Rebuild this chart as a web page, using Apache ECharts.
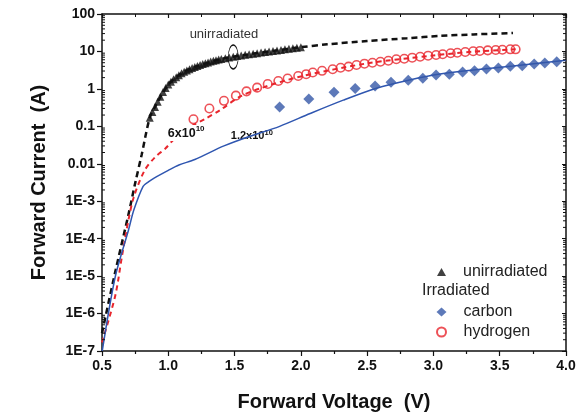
<!DOCTYPE html>
<html><head><meta charset="utf-8">
<script src="https://cdn.jsdelivr.net/npm/echarts@6/dist/echarts.min.js"></script>
<style>html,body{margin:0;padding:0;background:#fff}#c{width:587px;height:415px}</style>
</head><body><div id="c"></div>
<script>
// ---- data ----
const xTickLabels = ['0.5','1.0','1.5','2.0','2.5','3.0','3.5','4.0'];
const yTickLabels = ['1E-7','1E-6','1E-5','1E-4','1E-3','0.01','0.1','1','10','100'];

const unirrV = [0.86,0.88,0.90,0.92,0.94,0.96,0.98,1.00,1.02,1.04,1.06,1.08,1.10,1.12,1.14,1.16,1.18,1.20,1.22,1.24,1.26,1.28,1.30,1.32,1.34,1.36,1.38,1.40,1.43,1.46,1.49,1.52,1.55,1.58,1.61,1.64,1.67,1.70,1.73,1.76,1.79,1.82,1.85,1.88,1.91,1.94,1.97,2.00];
const unirrI = [0.17,0.24,0.33,0.45,0.62,0.82,1.05,1.3,1.55,1.8,2.05,2.3,2.6,2.85,3.1,3.35,3.6,3.85,4.1,4.35,4.6,4.85,5.1,5.35,5.6,5.85,6.1,6.3,6.6,6.9,7.2,7.5,7.8,8.1,8.4,8.7,9.0,9.3,9.6,9.9,10.3,10.6,11.0,11.4,11.8,12.2,12.6,13.0];

const carbonV = [1.84,2.06,2.25,2.41,2.56,2.68,2.81,2.92,3.02,3.12,3.22,3.31,3.40,3.49,3.58,3.67,3.76,3.84,3.93];
const carbonI = [0.33,0.54,0.81,1.03,1.19,1.50,1.69,1.92,2.35,2.45,2.82,3.06,3.40,3.61,4.01,4.16,4.62,4.91,5.32];

const hydV = [1.19,1.31,1.42,1.51,1.59,1.67,1.75,1.83,1.90,1.98,2.04,2.09,2.16,2.24,2.30,2.36,2.42,2.48,2.54,2.60,2.66,2.72,2.78,2.84,2.90,2.96,3.02,3.07,3.13,3.18,3.24,3.30,3.35,3.41,3.47,3.52,3.58,3.62];
const hydI = [0.154,0.30,0.48,0.66,0.86,1.08,1.35,1.62,1.89,2.21,2.47,2.74,3.04,3.34,3.68,3.92,4.35,4.71,5.00,5.32,5.66,6.17,6.40,6.81,7.24,7.70,8.04,8.39,8.92,9.25,9.66,10.1,10.3,10.7,10.9,11.1,11.4,11.4];

const unirrFitV = [0.50,0.60,0.70,0.75,0.80,0.86,0.90,1.00,1.10,1.20,1.40,1.60,1.80,2.00,2.20,2.50,2.80,3.05,3.30,3.60];
const unirrFitI = [3e-7,1.3e-5,4.5e-4,3e-3,0.018,0.17,0.33,1.3,2.6,3.85,6.3,8.3,10.4,13,15.5,19,22.5,26,28.5,31];

const hydFitV = [0.50,0.60,0.65,0.70,0.74,0.82,0.90,0.98,1.05,1.15,1.28,1.39,1.54,1.70,2.00,2.50,3.00,3.30,3.62];
const hydFitI = [1.7e-7,3e-6,3.3e-5,3.2e-4,1.3e-3,6.5e-3,0.015,0.026,0.048,0.09,0.16,0.27,0.62,1.05,2.15,4.8,7.8,9.9,11.4];

const carbFitV = [0.502,0.60,0.70,0.74,0.81,0.85,0.89,1.00,1.08,1.20,1.42,1.60,1.84,2.07,2.32,2.57,2.82,3.05,3.30,3.60,4.00];
const carbFitI = [1e-7,9.6e-6,1.7e-4,5.8e-4,2.5e-3,3.3e-3,4.1e-3,6.7e-3,9.3e-3,0.013,0.03,0.052,0.10,0.22,0.50,1.04,1.73,2.5,3.2,4.1,5.8];

// ---- build ----
const zip = (a,b)=>a.map((v,i)=>[v,b[i]]);
const minorY = [];
for (let e=-7;e<2;e++) for (let m=2;m<=9;m++) minorY.push(m*Math.pow(10,e));

const FONT = '"Liberation Sans", Arial, sans-serif';
const chart = echarts.init(document.getElementById('c'), null, {renderer:'canvas'});
const lbl = {fontFamily:FONT,fontWeight:'bold',fontSize:14,color:'#111'};

chart.setOption({
  animation:false,
  backgroundColor:'#fff',
  grid:{left:102,right:21,top:14,bottom:64,containLabel:false,outerBoundsMode:'none'},
  xAxis:[{
    type:'value',min:0.5,max:4.0,interval:0.5,position:'bottom',
    name:'Forward Voltage  (V)',nameLocation:'middle',nameGap:41,
    nameTextStyle:{fontFamily:FONT,fontWeight:'bold',fontSize:20,color:'#111'},
    axisLine:{lineStyle:{color:'#111',width:1.5}},
    axisTick:{inside:false,length:5,lineStyle:{color:'#111',width:1.2}},
    minorTick:{show:true,splitNumber:2,length:3,lineStyle:{color:'#111',width:1.2}},
    splitLine:{show:false},
    axisLabel:{...lbl,margin:8,formatter:v=>xTickLabels[Math.round((v-0.5)/0.5)]}
  },{
    type:'value',min:0.5,max:4.0,interval:0.5,position:'top',
    axisLine:{lineStyle:{color:'#111',width:1.5}},
    axisTick:{inside:true,length:4,lineStyle:{color:'#111',width:1.2}},
    minorTick:{show:true,splitNumber:2,length:3,lineStyle:{color:'#111'}},
    splitLine:{show:false},axisLabel:{show:false}
  }],
  yAxis:[{
    type:'log',logBase:10,min:1e-7,max:100,splitNumber:9,position:'left',
    name:'Forward Current  (A)',nameLocation:'middle',nameGap:53,
    nameTextStyle:{fontFamily:FONT,fontWeight:'bold',fontSize:20,color:'#111'},
    axisLine:{show:true,lineStyle:{color:'#111',width:1.5}},
    axisTick:{show:true,inside:false,length:5,lineStyle:{color:'#111',width:1.2}},
    splitLine:{show:false},
    axisLabel:{...lbl,margin:7,formatter:v=>yTickLabels[Math.round(Math.log10(v))+7]}
  },{
    type:'log',logBase:10,min:1e-7,max:100,splitNumber:9,position:'right',
    axisLine:{show:true,lineStyle:{color:'#111',width:1.5}},
    axisTick:{show:true,inside:true,length:4,lineStyle:{color:'#111'}},
    splitLine:{show:false},axisLabel:{show:false}
  }],
  legend:[{
    data:['unirradiated'],orient:'vertical',left:432,top:259,
    itemWidth:9,itemHeight:8,
    textStyle:{fontFamily:FONT,fontSize:16,color:'#222',padding:[0,0,0,12]}
  },{
    data:['carbon','hydrogen'],orient:'vertical',left:431,top:299,itemGap:4,
    itemWidth:10,itemHeight:9,
    textStyle:{fontFamily:FONT,fontSize:16,color:'#222',padding:[0,0,0,12]}
  }],
  graphic:[{
    type:'text',left:422,top:283,
    style:{text:'Irradiated',font:'16px '+FONT,fill:'#222'}
  }],
  series:[
    {name:'unirrFit',type:'line',data:zip(unirrFitV,unirrFitI),symbol:'none',smooth:0.3,
     lineStyle:{color:'#111',width:2.5,type:[6,4]},z:2,
     markPoint:{silent:true,data:[
       {coord:[1.49,7.1],symbol:'circle',symbolSize:[10,24],
        itemStyle:{color:'rgba(0,0,0,0)',borderColor:'#111',borderWidth:1},label:{show:false}},
       {coord:[1.42,28],symbol:'rect',symbolSize:1,itemStyle:{color:'rgba(0,0,0,0)'},
        label:{show:true,position:'inside',formatter:'unirradiated',fontFamily:FONT,fontSize:13,color:'#333'}}
     ]}},
    {name:'unirradiated',type:'scatter',data:zip(unirrV,unirrI),symbol:'triangle',symbolSize:8,
     itemStyle:{color:'#111'},z:3},
    {name:'hydFit',type:'line',data:zip(hydFitV,hydFitI),symbol:'none',smooth:0.3,
     lineStyle:{color:'#e8262d',width:2,type:[5,4]},z:4,
     markPoint:{silent:true,data:[
       {coord:[1.135,0.066],symbol:'rect',symbolSize:[40,16],itemStyle:{color:'#fff'},
        label:{show:true,position:'inside',formatter:'{a|6x10}{s|10}',
          rich:{a:{fontFamily:FONT,fontWeight:'bold',fontSize:12.5,color:'#111'},
                s:{fontFamily:FONT,fontWeight:'bold',fontSize:8,color:'#111',padding:[0,0,8,0]}}}}
     ]}},
    {name:'hydrogen',type:'scatter',data:zip(hydV,hydI),symbol:'circle',symbolSize:8.5,
     itemStyle:{color:'rgba(255,255,255,0)',borderColor:'#e8262d',borderWidth:1.6},z:5},
    {name:'carbFit',type:'line',data:zip(carbFitV,carbFitI),symbol:'none',smooth:0.3,
     lineStyle:{color:'#2f56b0',width:1.5},z:6,
     markPoint:{silent:true,data:[
       {coord:[1.63,0.055],symbol:'rect',symbolSize:[46,16],itemStyle:{color:'#fff'},
        label:{show:true,position:'inside',formatter:'{a|1.2x10}{s|10}',
          rich:{a:{fontFamily:FONT,fontWeight:'bold',fontSize:11,color:'#111'},
                s:{fontFamily:FONT,fontWeight:'bold',fontSize:7.5,color:'#111',padding:[0,0,7,0]}}}}
     ]}},
    {name:'carbon',type:'scatter',data:zip(carbonV,carbonI),symbol:'diamond',symbolSize:[11,11],
     itemStyle:{color:'#3558a8'},z:7},
    {name:'minorTicks',type:'custom',data:minorY.map(v=>[0.5,v]),silent:true,z:10,clip:false,
     renderItem:function(params,api){
       const v=api.value(1);
       const pl=api.coord([0.5,v]); const pr=api.coord([4.0,v]);
       return {type:'group',children:[
         {type:'line',shape:{x1:pl[0],y1:pl[1],x2:pl[0]+3,y2:pl[1]},style:{stroke:'#111',lineWidth:1}},
         {type:'line',shape:{x1:pr[0],y1:pr[1],x2:pr[0]-3,y2:pr[1]},style:{stroke:'#111',lineWidth:1}}
       ]};
     }}
  ]
});
</script></body></html>
